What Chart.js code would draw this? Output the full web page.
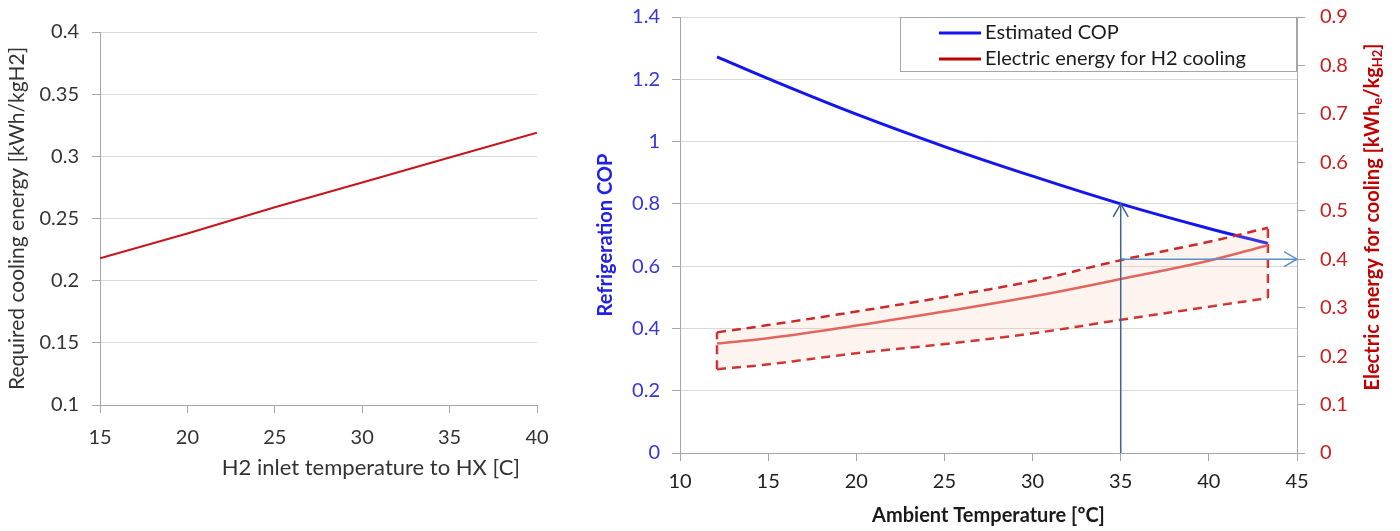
<!DOCTYPE html>
<html lang="en">
<head>
<meta charset="UTF-8">
<title>Cooling energy and refrigeration COP</title>
<style>
  body { margin: 0; background: #fff; }
  .chart-box { position: absolute; top: 0; height: 531px; }
  #leftBox { left: 0; width: 560px; }
  #rightBox { left: 580px; width: 820px; }
</style>
</head>
<body>
<div class="chart-box" id="leftBox"><canvas id="coolingChart" width="560" height="531"></canvas></div>
<div class="chart-box" id="rightBox"><canvas id="copChart" width="820" height="531"></canvas></div>

<script src="https://cdn.jsdelivr.net/npm/chart.js"></script>
<script>
// left chart: required cooling energy vs H2 inlet temperature
const inletTemp = [15, 20, 25, 30, 35, 40];
const coolingEnergy = [0.218, 0.238, 0.259, 0.279, 0.299, 0.319];

// right chart: COP and electric energy vs ambient temperature
const ambientTemp = [12.1, 15, 20, 25, 30, 35, 40, 43.35];
const estimatedCop = [1.272, 1.202, 1.088, 0.984, 0.889, 0.800, 0.721, 0.673];
const elecEnergy = [0.226, 0.237, 0.263, 0.292, 0.323, 0.359, 0.397, 0.429];
const elecUpper = [0.249, 0.264, 0.292, 0.322, 0.355, 0.398, 0.436, 0.465];
const elecLower = [0.173, 0.183, 0.206, 0.225, 0.247, 0.275, 0.302, 0.320];

// reading at 35 C
const markTemp = 35;
const markCop = 0.8;
const markElec = 0.4;
const axisEndTemp = 45;

const rightTitleParts = [
  { text: 'Electric energy for cooling [kWh' },
  { text: 'e', sub: true },
  { text: '/kg' },
  { text: 'H2', sub: true },
  { text: ']' }
];

Chart.defaults.font.family = 'Lato';
Chart.defaults.font.size = 20;
Chart.defaults.animation = false;

const pairs = (xs, ys) => xs.map((x, i) => ({ x: x, y: ys[i] }));
const fmt = v => String(Number(v.toFixed(3)));

// fixed axis box sizes, no extra room for overhanging labels
const fixWidth = w => s => { s.width = w; s.paddingTop = 0; s.paddingBottom = 0; };
const fixHeight = h => s => { s.height = h; s.paddingLeft = 0; s.paddingRight = 0; };

const arrowHeads = {
  id: 'arrowHeads',
  afterDatasetsDraw(chart) {
    const ctx = chart.ctx;
    chart.data.datasets.forEach((ds, i) => {
      if (!ds.arrowHead) return;
      const pts = chart.getDatasetMeta(i).data;
      const a = pts[pts.length - 2], b = pts[pts.length - 1];
      const ang = Math.atan2(b.y - a.y, b.x - a.x);
      const len = 15, spread = Math.PI / 6;
      ctx.save();
      ctx.strokeStyle = ds.borderColor;
      ctx.lineWidth = ds.borderWidth;
      ctx.beginPath();
      ctx.moveTo(b.x - len * Math.cos(ang - spread), b.y - len * Math.sin(ang - spread));
      ctx.lineTo(b.x, b.y);
      ctx.lineTo(b.x - len * Math.cos(ang + spread), b.y - len * Math.sin(ang + spread));
      ctx.stroke();
      ctx.restore();
    });
  }
};

const boxLegend = {
  id: 'boxLegend',
  afterDraw(chart) {
    const { ctx, chartArea } = chart;
    const items = chart.data.datasets.filter(d => d.legendColor);
    const w = 397, h = 55;
    const x0 = chartArea.right - w, y0 = chartArea.top;
    ctx.save();
    ctx.fillStyle = '#fff';
    ctx.fillRect(x0, y0, w, h);
    ctx.strokeStyle = '#a6a6a6';
    ctx.lineWidth = 1;
    ctx.strokeRect(x0 + 0.5, y0 + 0.5, w - 1, h - 1);
    ctx.font = '20px Lato';
    ctx.textBaseline = 'middle';
    items.forEach((d, k) => {
      const y = y0 + 16 + k * 26;
      ctx.strokeStyle = d.legendColor;
      ctx.lineWidth = 3;
      ctx.beginPath();
      ctx.moveTo(x0 + 39, y);
      ctx.lineTo(x0 + 81, y);
      ctx.stroke();
      ctx.fillStyle = '#1a1a1a';
      ctx.fillText(d.label, x0 + 85, y);
    });
    ctx.restore();
  }
};

// right axis title has subscripts, so it is drawn by hand
const subTitle = {
  id: 'subTitle',
  afterDraw(chart) {
    const { ctx, chartArea } = chart;
    const big = 'bold 20px Lato', small = 'bold 13px Lato';
    ctx.save();
    let total = 0;
    rightTitleParts.forEach(p => {
      ctx.font = p.sub ? small : big;
      total += ctx.measureText(p.text).width;
    });
    ctx.translate(chart.width - 27, (chartArea.top + chartArea.bottom) / 2 - 18);
    ctx.rotate(-Math.PI / 2);
    ctx.fillStyle = '#c00000';
    ctx.textBaseline = 'middle';
    let x = -total / 2;
    rightTitleParts.forEach(p => {
      ctx.font = p.sub ? small : big;
      ctx.fillText(p.text, x, p.sub ? 5 : 0);
      x += ctx.measureText(p.text).width;
    });
    ctx.restore();
  }
};

const dashed = { borderColor: '#cc2a2a', borderWidth: 2.5, borderDash: [9, 6], yAxisID: 'y2', order: 2 };

new Chart(document.getElementById('coolingChart'), {
  type: 'line',
  data: {
    datasets: [{
      label: 'Required cooling energy',
      data: pairs(inletTemp, coolingEnergy),
      borderColor: '#c8141c',
      borderWidth: 2,
      pointRadius: 0
    }]
  },
  options: {
    responsive: false,
    layout: { padding: { top: 32, right: 23, left: 0, bottom: 0 } },
    plugins: { legend: { display: false }, tooltip: { enabled: false } },
    scales: {
      x: {
        type: 'linear', min: 15, max: 40,
        ticks: { stepSize: 5, color: '#333', padding: 13 },
        grid: { drawOnChartArea: false, tickLength: 8, tickColor: '#a6a6a6' },
        border: { color: '#a6a6a6' },
        title: {
          display: true, text: 'H2 inlet temperature to HX [C]   ', align: 'end',
          color: '#333', font: { size: 22 }, padding: { top: 0, bottom: 50 }
        },
        afterFit: fixHeight(126)
      },
      y: {
        min: 0.1, max: 0.4,
        ticks: { stepSize: 0.05, color: '#333', padding: 13, callback: fmt },
        grid: { color: '#d9d9d9', tickLength: 8, tickColor: '#a6a6a6' },
        border: { color: '#a6a6a6' },
        title: {
          display: true, text: 'Required cooling energy [kWh/kgH2]',
          color: '#333', font: { size: 21 }, padding: { top: 5, bottom: 0 }
        },
        afterFit: fixWidth(100)
      }
    }
  }
});

new Chart(document.getElementById('copChart'), {
  type: 'line',
  data: {
    datasets: [
      {
        label: 'Estimated COP',
        data: pairs(ambientTemp, estimatedCop),
        yAxisID: 'y',
        borderColor: '#1414f0',
        legendColor: '#1414f0',
        borderWidth: 3,
        tension: 0.4,
        order: 3
      },
      {
        label: 'Electric energy for H2 cooling',
        data: pairs(ambientTemp, elecEnergy),
        yAxisID: 'y2',
        borderColor: '#e2665e',
        legendColor: '#c00000',
        borderWidth: 2.5,
        tension: 0.4,
        order: 1
      },
      Object.assign({
        label: 'Upper bound',
        data: pairs(ambientTemp, elecUpper),
        tension: 0.4,
        fill: '+1',
        backgroundColor: 'rgba(246, 196, 164, 0.18)'
      }, dashed),
      Object.assign({
        label: 'Lower bound',
        data: pairs(ambientTemp, elecLower),
        tension: 0.4
      }, dashed),
      Object.assign({
        label: 'Band start',
        data: [
          { x: ambientTemp[0], y: elecLower[0] },
          { x: ambientTemp[0], y: elecUpper[0] }
        ]
      }, dashed),
      Object.assign({
        label: 'Band end',
        data: [
          { x: ambientTemp[ambientTemp.length - 1], y: elecLower[elecLower.length - 1] },
          { x: ambientTemp[ambientTemp.length - 1], y: elecUpper[elecUpper.length - 1] }
        ]
      }, dashed),
      {
        label: 'COP at 35',
        data: [{ x: markTemp, y: 0 }, { x: markTemp, y: markCop }],
        yAxisID: 'y',
        borderColor: '#3d6391',
        borderWidth: 1.5,
        arrowHead: true,
        order: 0
      },
      {
        label: 'Energy at 35',
        data: [{ x: markTemp, y: markElec }, { x: axisEndTemp, y: markElec }],
        yAxisID: 'y2',
        borderColor: '#5b8fd0',
        borderWidth: 1.5,
        arrowHead: true,
        order: 0
      }
    ]
  },
  options: {
    responsive: false,
    elements: { point: { radius: 0 } },
    layout: { padding: { top: 17, right: 0, left: 0, bottom: 0 } },
    plugins: { legend: { display: false }, tooltip: { enabled: false } },
    scales: {
      x: {
        type: 'linear', min: 10, max: 45,
        ticks: { stepSize: 5, color: '#222', padding: 9 },
        grid: { drawOnChartArea: false, tickLength: 8, tickColor: '#a6a6a6' },
        border: { color: '#a6a6a6' },
        title: {
          display: true, text: 'Ambient Temperature [ºC]',
          color: '#1a1a1a', font: { weight: 'bold' }, padding: { top: 0, bottom: 3 }
        },
        afterFit: fixHeight(78)
      },
      y: {
        position: 'left', min: 0, max: 1.4,
        ticks: { stepSize: 0.2, color: '#3535d8', padding: 12, callback: fmt },
        grid: { color: '#d9d9d9', tickLength: 8, tickColor: '#a6a6a6' },
        border: { color: '#a6a6a6' },
        title: {
          display: true, text: 'Refrigeration COP',
          color: '#2020e6', font: { weight: 'bold' }, padding: { top: 14, bottom: 0 }
        },
        afterFit: fixWidth(100)
      },
      y2: {
        position: 'right', min: 0, max: 0.9,
        ticks: { stepSize: 0.1, color: '#c81e1e', padding: 15, callback: fmt },
        grid: { drawOnChartArea: false, tickLength: 8, tickColor: '#a6a6a6' },
        border: { color: '#a6a6a6' },
        afterFit: fixWidth(103)
      }
    }
  },
  plugins: [arrowHeads, boxLegend, subTitle]
});
</script>
</body>
</html>
